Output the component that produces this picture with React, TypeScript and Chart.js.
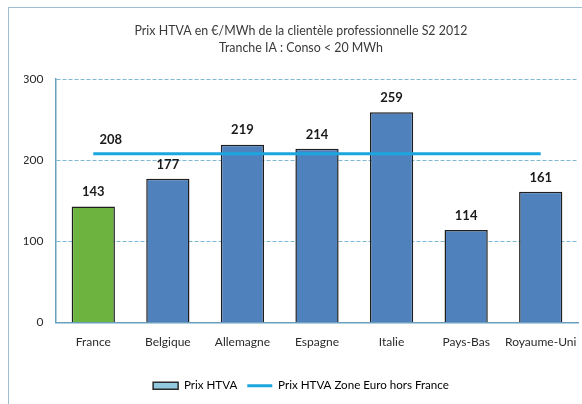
import React, { useEffect, useRef } from "react";
import { Chart, registerables } from "chart.js";

Chart.register(...registerables);

const categories = ["France", "Belgique", "Allemagne", "Espagne", "Italie", "Pays-Bas", "Royaume-Uni"];
const prixHTVA = [143, 177, 219, 214, 259, 114, 161];
const zoneEuroHorsFrance = [208, 208, 208, 208, 208, 208, 208];
const barColors = ["#6db33f", "#4f81bd", "#4f81bd", "#4f81bd", "#4f81bd", "#4f81bd", "#4f81bd"];
const yTicks = [0, 100, 200, 300];
const titleLines = ["Prix HTVA en €/MWh de la clientèle professionnelle S2 2012", "Tranche IA : Conso < 20 MWh"];
const seriesNames = ["Prix HTVA", "Prix HTVA Zone Euro hors France"];

const FONT = "Lato, 'Liberation Sans', sans-serif";

const valueLabels = {
  id: "valueLabels",
  afterDatasetsDraw(chart: any) {
    const ctx = chart.ctx;
    ctx.save();
    ctx.font = `bold 13px ${FONT}`;
    ctx.fillStyle = "#1a1a1a";
    ctx.textAlign = "center";
    ctx.textBaseline = "middle";
    const barMeta = chart.getDatasetMeta(0);
    barMeta.data.forEach((el: any, i: number) => {
      ctx.fillText(String(prixHTVA[i]), el.x, el.y - 14.5);
    });
    const lineMeta = chart.getDatasetMeta(1);
    const first = lineMeta.data[0];
    if (first) ctx.fillText(String(zoneEuroHorsFrance[0]), first.x + 17.5, first.y - 13.5);
    ctx.restore();
  },
};

export default function App() {
  const ref = useRef<HTMLCanvasElement | null>(null);
  useEffect(() => {
    if (!ref.current) return;
    const chart = new Chart(ref.current, {
      type: "bar",
      data: {
        labels: categories,
        datasets: [
          {
            type: "bar",
            label: seriesNames[0],
            data: prixHTVA,
            backgroundColor: barColors,
            borderColor: "#1e1e1e",
            borderWidth: 1.5,
            categoryPercentage: 1,
            barPercentage: 0.58,
            order: 2,
          },
          {
            type: "line",
            label: seriesNames[1],
            data: zoneEuroHorsFrance,
            borderColor: "#1ba6df",
            borderWidth: 3,
            pointRadius: 0,
            fill: false,
            order: 1,
          } as any,
        ],
      },
      options: {
        responsive: false,
        maintainAspectRatio: false,
        animation: false,
        layout: { padding: { left: 24, right: 4, top: 0, bottom: 2.5 } },
        plugins: {
          tooltip: { enabled: false },
          title: {
            display: true,
            text: titleLines,
            color: "#3a3a3a",
            font: { family: FONT, size: 12.4, weight: "normal", lineHeight: 1.4 },
            padding: { top: 22, bottom: 22.4 },
          },
          legend: {
            display: true,
            position: "bottom",
            labels: {
              usePointStyle: true,
              pointStyleWidth: 25,
              boxHeight: 7,
              padding: 10,
              color: "#1a1a1a",
              font: { family: FONT, size: 11.6 },
              generateLabels: () => [
                {
                  text: seriesNames[0],
                  fillStyle: "#93c9de",
                  strokeStyle: "#2a2a2a",
                  lineWidth: 1.5,
                  pointStyle: "rect",
                  datasetIndex: 0,
                  hidden: false,
                },
                {
                  text: seriesNames[1],
                  fillStyle: "#1ba6df",
                  strokeStyle: "#1ba6df",
                  lineWidth: 3,
                  pointStyle: "line",
                  datasetIndex: 1,
                  hidden: false,
                },
              ],
            },
          },
        },
        scales: {
          x: {
            grid: { display: false, drawTicks: false },
            border: { display: true, color: "#6a9fc0", width: 1.5 },
            ticks: { color: "#2a2a2a", font: { family: FONT, size: 12 }, padding: 13, maxRotation: 0, autoSkip: false },
            afterFit: (s: any) => {
              s.height = 47.5;
              s.paddingLeft = 0;
              s.paddingRight = 0;
            },
          },
          y: {
            min: 0,
            max: 300,
            afterBuildTicks: (s: any) => { s.ticks = yTicks.map((v) => ({ value: v })); },
            grid: {
              drawTicks: false,
              color: (c: any) => (c.tick && c.tick.value === 0 ? "rgba(0,0,0,0)" : "#7db8d6"),
              lineWidth: 1,
            },
            border: { display: true, color: "#6a9fc0", width: 1.5, dash: [4, 2] } as any,
            ticks: { color: "#2a2a2a", font: { family: FONT, size: 12 }, padding: 12.5 },
            afterFit: (s: any) => { s.width = 32; },
          },
        },
      },
      plugins: [valueLabels],
    });
    return () => chart.destroy();
  }, []);

  return (
    <>
      <div
        style={{
          position: "fixed",
          left: 8,
          top: 7,
          width: 700,
          height: 500,
          borderTop: "1.5px solid #9dbdd0",
          borderLeft: "1.5px solid #9dbdd0",
        }}
      />
      <canvas
        ref={ref}
        width={582}
        height={404}
        style={{ position: "fixed", left: 0, top: 0, width: 582, height: 404 }}
      />
    </>
  );
}
